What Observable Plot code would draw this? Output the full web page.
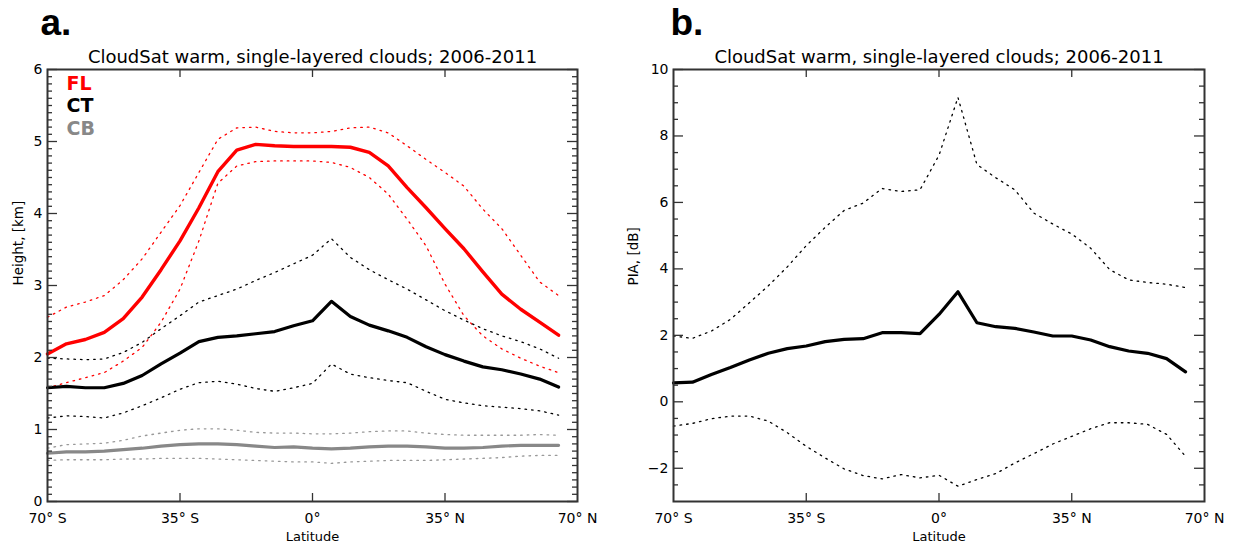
<!DOCTYPE html>
<html><head><meta charset="utf-8">
<script src="https://cdn.jsdelivr.net/npm/d3@7"></script>
<script src="https://cdn.jsdelivr.net/npm/@observablehq/plot@0.6"></script>
<style>
html,body{margin:0;padding:0;background:#fff;}
#wrap{position:relative;width:1234px;height:544px;display:flex;}
#wrap > div{width:617px;height:544px;}
</style></head><body><div id="wrap"><div id="pa"></div><div id="pb"></div></div>
<script>
// Latitude bins (deg; negative = South)
const lat = [-70,-65,-60,-55,-50,-45,-40,-35,-30,-25,-20,-15,-10,-5,0,5,10,15,20,25,30,35,40,45,50,55,60,65];

// Panel a: heights (km)
const FL    = [2.05,2.19,2.25,2.35,2.54,2.84,3.22,3.62,4.08,4.58,4.88,4.96,4.94,4.93,4.93,4.93,4.92,4.85,4.66,4.36,4.08,3.79,3.51,3.19,2.88,2.67,2.49,2.31];
const FL_hi = [2.56,2.70,2.77,2.86,3.08,3.37,3.74,4.11,4.57,5.03,5.19,5.20,5.14,5.12,5.12,5.14,5.19,5.20,5.12,4.94,4.75,4.57,4.38,4.06,3.79,3.42,3.05,2.86];
const FL_lo = [1.58,1.65,1.72,1.79,1.95,2.14,2.49,2.95,3.62,4.42,4.66,4.72,4.73,4.73,4.73,4.71,4.64,4.50,4.27,3.92,3.55,3.02,2.58,2.30,2.12,1.99,1.88,1.79];
const CT    = [1.58,1.60,1.58,1.58,1.64,1.75,1.91,2.06,2.22,2.28,2.30,2.33,2.36,2.44,2.51,2.78,2.57,2.45,2.37,2.28,2.15,2.04,1.95,1.87,1.83,1.77,1.70,1.59];
const CT_hi = [1.99,1.98,1.97,1.98,2.07,2.21,2.40,2.58,2.77,2.86,2.95,3.07,3.18,3.30,3.42,3.65,3.39,3.22,3.08,2.95,2.80,2.65,2.52,2.40,2.30,2.22,2.12,1.99];
const CT_lo = [1.16,1.19,1.18,1.16,1.23,1.33,1.44,1.56,1.65,1.67,1.63,1.57,1.53,1.58,1.64,1.91,1.77,1.72,1.68,1.65,1.53,1.42,1.37,1.33,1.31,1.29,1.26,1.20];
const CB    = [0.67,0.69,0.69,0.70,0.72,0.74,0.77,0.79,0.80,0.80,0.79,0.77,0.75,0.76,0.74,0.73,0.74,0.76,0.77,0.77,0.76,0.74,0.74,0.75,0.77,0.78,0.78,0.78];
const CB_hi = [0.74,0.79,0.80,0.81,0.85,0.91,0.95,0.99,1.01,1.01,0.99,0.96,0.95,0.95,0.94,0.94,0.95,0.97,0.98,0.98,0.95,0.93,0.92,0.92,0.92,0.92,0.93,0.92];
const CB_lo = [0.57,0.58,0.58,0.58,0.59,0.59,0.60,0.60,0.60,0.59,0.58,0.57,0.56,0.55,0.55,0.53,0.55,0.56,0.57,0.57,0.57,0.58,0.59,0.60,0.61,0.63,0.64,0.64];

// Panel b: PIA (dB)
const PIA    = [0.57,0.59,0.82,1.03,1.26,1.46,1.60,1.68,1.81,1.88,1.90,2.08,2.08,2.05,2.63,3.31,2.38,2.26,2.21,2.10,1.98,1.98,1.86,1.66,1.53,1.46,1.30,0.90];
const PIA_hi = [1.98,1.91,2.13,2.48,2.98,3.49,4.06,4.70,5.25,5.76,5.98,6.42,6.33,6.38,7.42,9.16,7.14,6.74,6.38,5.68,5.35,5.05,4.62,3.98,3.67,3.59,3.54,3.44];
const PIA_lo = [-0.73,-0.65,-0.51,-0.43,-0.43,-0.58,-0.93,-1.34,-1.69,-2.02,-2.22,-2.32,-2.19,-2.29,-2.21,-2.54,-2.34,-2.16,-1.84,-1.56,-1.27,-1.04,-0.81,-0.63,-0.63,-0.68,-0.98,-1.64];

// Ticks and labels
const xTicks = [-70,-35,0,35,70];
const xInnerTicks = [-35,0,35];
const aMajor = [0,1,2,3,4,5,6];
const aMinor = [0.1,0.2,0.3,0.4,0.5,0.6,0.7,0.8,0.9,1.1,1.2,1.3,1.4,1.5,1.6,1.7,1.8,1.9,2.1,2.2,2.3,2.4,2.5,2.6,2.7,2.8,2.9,3.1,3.2,3.3,3.4,3.5,3.6,3.7,3.8,3.9,4.1,4.2,4.3,4.4,4.5,4.6,4.7,4.8,4.9,5.1,5.2,5.3,5.4,5.5,5.6,5.7,5.8,5.9];
const bMajor = [-2,0,2,4,6,8,10];
const bMinor = [-2.5,-1.5,-1,-0.5,0.5,1,1.5,2.5,3,3.5,4.5,5,5.5,6.5,7,7.5,8.5,9,9.5];
const title = "CloudSat warm, single-layered clouds; 2006-2011";
const legendLabels = ["FL","CT","CB"];
const legendColors = ["#ff0000","#000000","#888888"];

const W = 617, H = 544;
const fmtLat = d => d === 0 ? "0°" : `${Math.abs(d)}° ${d < 0 ? "S" : "N"}`;
const rows = arr => lat.map((x, i) => ({lat: x, v: arr[i]}));
const DOT = "1.6,5";

function panel({ml, mr, yDomain, major, minor, ylabel, ylabelDx, letter, letterDx, lines, legend}) {
  const mt = 69, mb = 43;
  const iw = W - ml - mr, ih = H - mt - mb;
  const tc = "#333";
  const marks = [];
  for (const s of lines) {
    marks.push(Plot.line(rows(s.data), {x: "lat", y: "v", stroke: s.color, strokeWidth: s.w, strokeDasharray: s.dash, strokeLinejoin: "round"}));
  }
  marks.push(
    Plot.tickY(major, {y: d => d, insetRight: iw - 10, stroke: tc, strokeWidth: 1.3}),
    Plot.tickY(major, {y: d => d, insetLeft: iw - 10, stroke: tc, strokeWidth: 1.3}),
    Plot.tickY(minor, {y: d => d, insetRight: iw - 5, stroke: tc, strokeWidth: 1.3}),
    Plot.tickY(minor, {y: d => d, insetLeft: iw - 5, stroke: tc, strokeWidth: 1.3}),
    Plot.tickX(xInnerTicks, {x: d => d, insetTop: ih - 8, stroke: tc, strokeWidth: 1.3}),
    Plot.tickX(xInnerTicks, {x: d => d, insetBottom: ih - 8, stroke: tc, strokeWidth: 1.3}),
    Plot.frame({stroke: tc, strokeWidth: 2}),
    Plot.axisX(xTicks, {tickSize: 0, tickPadding: 12, tickFormat: fmtLat, label: null, fontSize: 14}),
    Plot.axisY(major, {tickSize: 0, tickPadding: 5, tickFormat: d => String(d).replace("-", "\u2212"), label: null, fontSize: 14}),
    Plot.text(["Latitude"], {frameAnchor: "bottom", dy: 39, lineAnchor: "bottom", fontSize: 13}),
    Plot.text([ylabel], {frameAnchor: "left", dx: ylabelDx, rotate: -90, fontSize: 13.5}),
    Plot.text([title], {frameAnchor: "top", dy: -7, lineAnchor: "bottom", fontSize: 18}),
    Plot.text([letter], {frameAnchor: "top-left", dx: letterDx, dy: -35, lineAnchor: "bottom", textAnchor: "start", fontSize: 37, fontWeight: "bold", fontFamily: "Liberation Sans"})
  );
  if (legend) {
    legendLabels.forEach((lab, i) => {
      marks.push(Plot.text([lab], {frameAnchor: "top-left", dx: 19, dy: 14 + i * 22.5, textAnchor: "start", lineAnchor: "middle", fill: legendColors[i], fontSize: 19, fontWeight: "bold"}));
    });
  }
  return Plot.plot({
    width: W, height: H,
    marginLeft: ml, marginRight: mr, marginTop: mt, marginBottom: mb,
    x: {domain: [-70, 70]},
    y: {domain: yDomain},
    style: {fontFamily: "DejaVu Sans", background: "white", color: "black", overflow: "visible"},
    marks
  });
}

const pa = panel({
  ml: 47, mr: W - 577, yDomain: [0, 6], major: aMajor, minor: aMinor,
  ylabel: "Height, [km]", ylabelDx: -29, letter: "a.", letterDx: -7, legend: true,
  lines: [
    {data: FL_hi, color: "#ff0000", w: 1.3, dash: DOT},
    {data: FL_lo, color: "#ff0000", w: 1.3, dash: DOT},
    {data: CT_hi, color: "#000000", w: 1.3, dash: DOT},
    {data: CT_lo, color: "#000000", w: 1.3, dash: DOT},
    {data: CB_hi, color: "#999999", w: 1.3, dash: DOT},
    {data: CB_lo, color: "#999999", w: 1.3, dash: DOT},
    {data: CB, color: "#888888", w: 3.2},
    {data: CT, color: "#000000", w: 3.2},
    {data: FL, color: "#ff0000", w: 3.4}
  ]
});
document.getElementById("pa").appendChild(pa);

const pb = panel({
  ml: 56, mr: W - 587, yDomain: [-3, 10], major: bMajor, minor: bMinor,
  ylabel: "PIA, [dB]", ylabelDx: -40, letter: "b.", letterDx: -3, legend: false,
  lines: [
    {data: PIA_hi, color: "#000000", w: 1.3, dash: DOT},
    {data: PIA_lo, color: "#000000", w: 1.3, dash: DOT},
    {data: PIA, color: "#000000", w: 3.2}
  ]
});
document.getElementById("pb").appendChild(pb);
</script>
</body></html>
